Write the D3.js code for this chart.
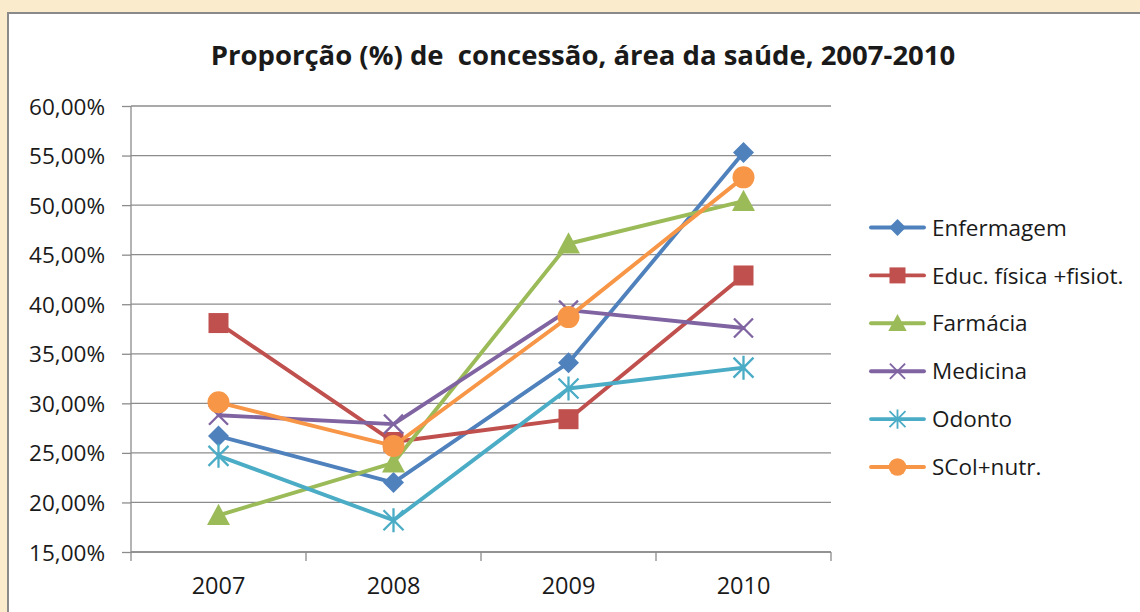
<!DOCTYPE html>
<html><head><meta charset="utf-8">
<script src="https://cdn.jsdelivr.net/npm/d3@7"></script>
<style>
html,body{margin:0;padding:0;background:#fbebcd;}
svg{display:block;}
text{font-family:"Open Sans",sans-serif;fill:#1a1a1a;}
</style></head><body>
<svg id="c" width="1140" height="612"></svg>
<script>
const years = ["2007","2008","2009","2010"];
const seriesNames = ["Enfermagem","Educ. física +fisiot.","Farmácia","Medicina","Odonto","SCol+nutr."];
const enfermagem = [26.7, 22.0, 34.1, 55.3];
const educFisica = [38.1, 26.1, 28.4, 42.9];
const farmacia   = [18.7, 24.0, 46.1, 50.4];
const medicina   = [28.8, 27.9, 39.4, 37.6];
const odonto     = [24.7, 18.2, 31.5, 33.6];
const scolNutr   = [30.1, 25.7, 38.7, 52.8];
const yTicks = [15,20,25,30,35,40,45,50,55,60];
const title = "Proporção (%) de  concessão, área da saúde, 2007-2010";

const seriesValues = [enfermagem, educFisica, farmacia, medicina, odonto, scolNutr];
const colors = ["#4F81BD","#C0504D","#9BBB59","#8064A2","#4BACC6","#F79646"];
const markers = ["diamond","square","triangle","x","star","circle"];

const svg = d3.select("#c");
svg.append("rect").attr("x",8).attr("y",13).attr("width",1140).attr("height",620)
  .attr("fill","#fff").attr("stroke","#8a8a8a").attr("stroke-width",2);

const L=131, R=831, T=106, B=552;
const x = d3.scaleBand().domain(years).range([L,R]);
const y = d3.scaleLinear().domain([15,60]).range([B,T]);

svg.append("g").selectAll("line").data(yTicks).join("line")
  .attr("x1",L).attr("x2",R).attr("y1",d=>y(d)).attr("y2",d=>y(d))
  .attr("stroke","#8c8c8c").attr("stroke-width",1.3);

const yAxis = d3.axisLeft(y).tickValues(yTicks).tickSize(9).tickPadding(17)
  .tickFormat(d=>d3.format(".2f")(d).replace(".",",")+"%");
const gy = svg.append("g").attr("transform",`translate(${L},0)`).call(yAxis);
gy.select(".domain").attr("stroke","#8c8c8c").attr("stroke-width",1.3).attr("d",`M0,${T}V${B}`);
gy.selectAll(".tick line").attr("stroke","#8c8c8c").attr("stroke-width",1.3);
gy.selectAll(".tick text").attr("font-size",22.5).attr("font-family","Open Sans").attr("fill","#1a1a1a").attr("dy","0.36em");

const xAxis = d3.axisBottom(x).tickSize(0).tickPadding(0);
const gx = svg.append("g").attr("transform",`translate(0,${B})`).call(xAxis);
gx.select(".domain").attr("stroke","#8c8c8c").attr("stroke-width",1.3).attr("d",`M${L},0H${R}`);
gx.selectAll(".tick text").attr("font-size",23.5).attr("font-family","Open Sans").attr("fill","#1a1a1a").attr("y",42).attr("dy",0);
const bounds = years.map(d=>x(d)).concat([x(years[years.length-1])+x.bandwidth()]);
gx.append("g").selectAll("line").data(bounds).join("line")
  .attr("x1",d=>d).attr("x2",d=>d).attr("y1",0).attr("y2",9)
  .attr("stroke","#8c8c8c").attr("stroke-width",1.3);

svg.append("text").attr("x",583).attr("y",65).attr("text-anchor","middle")
  .style("white-space","pre")
  .attr("font-size",27.5).attr("font-weight","bold").text(title);

function marker(g, type, color, scale){
  const k = scale||1;
  if(type==="diamond"){
    const r=10.5*k;
    g.append("path").attr("d",`M0,${-r}L${r},0L0,${r}L${-r},0Z`).attr("fill",color);
  } else if(type==="square"){
    const r=10*k;
    g.append("rect").attr("x",-r).attr("y",-r).attr("width",2*r).attr("height",2*r).attr("fill",color);
  } else if(type==="triangle"){
    const r=11.5*k;
    g.append("path").attr("d",`M0,${-r}L${r},${r*0.85}L${-r},${r*0.85}Z`).attr("fill",color);
  } else if(type==="x"){
    const r=9.5*k;
    g.append("path").attr("d",`M${-r},${-r}L${r},${r}M${-r},${r}L${r},${-r}`).attr("stroke",color).attr("stroke-width",2.3*k).attr("fill","none");
  } else if(type==="star"){
    const r=10*k;
    g.append("path").attr("d",`M${-r},${-r}L${r},${r}M${-r},${r}L${r},${-r}M0,${-r*1.2}V${r*1.2}`).attr("stroke",color).attr("stroke-width",2.3*k).attr("fill","none");
  } else if(type==="circle"){
    g.append("circle").attr("r",11*k).attr("fill",color);
  }
}

const line = d3.line().x((d,i)=>x(years[i])+x.bandwidth()/2).y(d=>y(d));
seriesValues.forEach((vals,si)=>{
  const g = svg.append("g");
  g.append("path").datum(vals).attr("d",line).attr("fill","none")
    .attr("stroke",colors[si]).attr("stroke-width",3.9).attr("stroke-linejoin","round").attr("stroke-linecap","round");
  vals.forEach((v,i)=>{
    const mg = g.append("g").attr("transform",`translate(${x(years[i])+x.bandwidth()/2},${y(v)})`);
    marker(mg, markers[si], colors[si], 1);
  });
});

const leg = svg.append("g");
const legY = d3.scalePoint().domain(seriesNames).range([227.5,467]);
seriesNames.forEach((n,si)=>{
  const cy = legY(n);
  leg.append("line").attr("x1",871).attr("x2",924).attr("y1",cy).attr("y2",cy)
    .attr("stroke",colors[si]).attr("stroke-width",3.9).attr("stroke-linecap","round");
  const mg = leg.append("g").attr("transform",`translate(897.5,${cy})`);
  marker(mg, markers[si], colors[si], 0.8);
  leg.append("text").attr("x",932).attr("y",cy).attr("dy","0.36em").attr("font-size",22.5).text(n);
});
</script>
</body></html>
